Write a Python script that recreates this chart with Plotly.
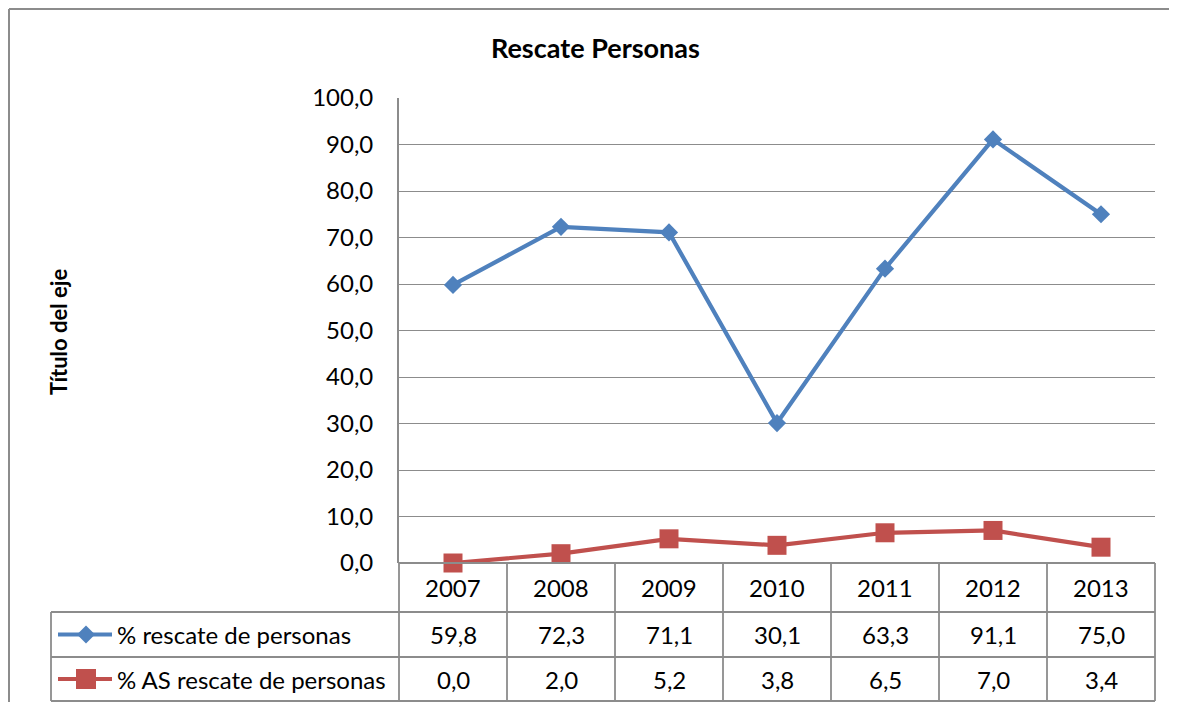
import plotly.graph_objects as go

years = ["2007", "2008", "2009", "2010", "2011", "2012", "2013"]
rescate = [59.8, 72.3, 71.1, 30.1, 63.3, 91.1, 75.0]
as_rescate = [0.0, 2.0, 5.2, 3.8, 6.5, 7.0, 3.4]
series_names = ["% rescate de personas", "% AS rescate de personas"]
title_text = "Rescate Personas"
yaxis_title = "Título del eje"

BLUE = "#4F81BD"
RED = "#C0504D"
GRID = "#8C8C8C"
FONT = "Lato"

OFF = 8  # page body margin
W, H = 1177 - OFF, 710 - 2 * OFF
# plot area in screen pixels
SX0, SX1, SY0, SY1 = 399, 1155, 98, 563
L = SX0 - OFF
T = SY0 - OFF
R = W - (SX1 - OFF)
B = H - (SY1 - OFF)
PW = SX1 - SX0
PH = SY1 - SY0


def px_x(px):
    return (px - SX0) / PW


def px_y(py):
    return (SY1 - py) / PH


def fmt(v):
    return f"{v:.1f}".replace(".", ",")


fig = go.Figure()
fig.add_trace(go.Scatter(
    x=list(range(len(years))), y=rescate, mode="lines+markers",
    name=series_names[0], line=dict(color=BLUE, width=4.2),
    marker=dict(symbol="diamond", size=14, color=BLUE), cliponaxis=False))
fig.add_trace(go.Scatter(
    x=list(range(len(years))), y=as_rescate, mode="lines+markers",
    name=series_names[1], line=dict(color=RED, width=4.2),
    marker=dict(symbol="square", size=19, color=RED), cliponaxis=False))

shapes = []
ann = []

rows_px = [563, 612, 657, 701]
n = len(years)
LINE = dict(color=GRID, width=1.8)

for i, py in enumerate(rows_px):
    x0 = 0 if i == 0 else px_x(51)
    shapes.append(dict(type="line", xref="paper", yref="paper",
                       x0=x0, x1=1, y0=px_y(py), y1=px_y(py), line=LINE))
for j in range(n + 1):
    shapes.append(dict(type="line", xref="paper", yref="paper",
                       x0=j / n, x1=j / n, y0=px_y(563), y1=px_y(701), line=LINE))
shapes.append(dict(type="line", xref="paper", yref="paper",
                   x0=px_x(51), x1=px_x(51), y0=px_y(612), y1=px_y(701), line=LINE))

# outer chart border (left & top)
shapes.append(dict(type="line", xref="paper", yref="paper",
                   x0=px_x(OFF + 1), x1=px_x(OFF + 1), y0=px_y(OFF + 1), y1=px_y(740),
                   line=dict(color="#8C8C8C", width=2)))
shapes.append(dict(type="line", xref="paper", yref="paper",
                   x0=px_x(OFF + 1), x1=px_x(1200), y0=px_y(OFF + 1), y1=px_y(OFF + 1),
                   line=dict(color="#8C8C8C", width=2)))

TF = dict(family=FONT, size=24, color="black")
row_c = [(rows_px[k] + rows_px[k + 1]) / 2 for k in range(3)]
for j, yr in enumerate(years):
    for r, txt in enumerate([yr, fmt(rescate[j]), fmt(as_rescate[j])]):
        ann.append(dict(x=j, y=px_y(row_c[r]), xref="x", yref="paper", text=txt,
                        xanchor="center", yanchor="middle",
                        showarrow=False, font=TF))

for k, (name, col) in enumerate(zip(series_names, [BLUE, RED])):
    cy = row_c[k + 1]
    shapes.append(dict(type="line", xref="paper", yref="paper",
                       x0=px_x(58), x1=px_x(112), y0=px_y(cy), y1=px_y(cy),
                       line=dict(color=col, width=4)))
    if k == 0:
        d = 9
        path = (f"M {px_x(86 - d)} {px_y(cy)} L {px_x(86)} {px_y(cy - d)} "
                f"L {px_x(86 + d)} {px_y(cy)} L {px_x(86)} {px_y(cy + d)} Z")
        shapes.append(dict(type="path", xref="paper", yref="paper", path=path,
                           fillcolor=col, line=dict(color=col, width=0)))
    else:
        d = 10
        shapes.append(dict(type="rect", xref="paper", yref="paper",
                           x0=px_x(86 - d), x1=px_x(86 + d),
                           y0=px_y(cy - d), y1=px_y(cy + d),
                           fillcolor=col, line=dict(color=col, width=0)))
    ann.append(dict(x=px_x(115), y=px_y(cy), xref="paper", yref="paper", text=name,
                    xanchor="left", yanchor="middle", showarrow=False, font=TF))

ann.append(dict(x=px_x(595), y=px_y(47), xref="paper", yref="paper",
                text=f"<b>{title_text}</b>", showarrow=False,
                xanchor="center", yanchor="middle",
                font=dict(family=FONT, size=27, color="black")))
ann.append(dict(x=px_x(58), y=px_y(332), xref="paper", yref="paper",
                text=f"<b>{yaxis_title}</b>", showarrow=False, textangle=-90,
                xanchor="center", yanchor="middle",
                font=dict(family=FONT, size=22, color="black")))

fig.update_layout(
    width=W, height=H,
    margin=dict(l=L, r=R, t=T, b=B),
    paper_bgcolor="white", plot_bgcolor="white",
    separators=",.",
    showlegend=False,
    shapes=shapes, annotations=ann,
    xaxis=dict(range=[-0.5, n - 0.5], showgrid=False, showticklabels=False,
               zeroline=False, showline=False, fixedrange=True),
    yaxis=dict(range=[0, 100], dtick=10, tickformat=".1f", showgrid=True,
               gridcolor=GRID, gridwidth=1.3, zeroline=True, zerolinecolor=GRID,
               zerolinewidth=1.8,
               showline=True, linecolor=GRID, linewidth=1.8, ticks="",
               ticklabelstandoff=19,
               tickfont=dict(family=FONT, size=24, color="black")),
    font=dict(family=FONT),
)

fig.write_html("out.html")
